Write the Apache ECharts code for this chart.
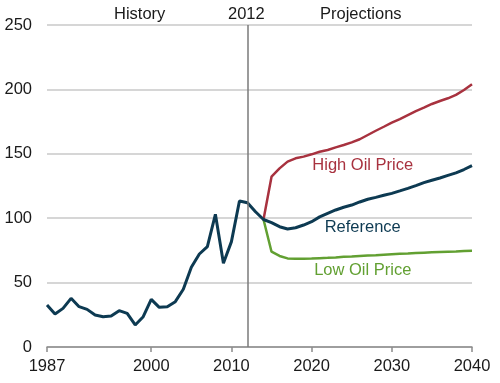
<!DOCTYPE html>
<html>
<head>
<meta charset="utf-8">
<script src="https://cdn.jsdelivr.net/npm/echarts@6/dist/echarts.min.js"></script>
<style>html,body{margin:0;padding:0;background:#fff}#c{width:500px;height:383px}</style>
</head>
<body>
<div id="c"></div>
<script>
var startYear = 1987, endYear = 2040;
var labelYears = [1987, 2000, 2010, 2020, 2030, 2040];
var yTicks = [0, 50, 100, 150, 200, 250];
// History 1987-2013
var historyValues = [32.6, 25.6, 30, 37.8, 31.3, 29.2, 24.8, 23.5, 24, 28.2, 26.1, 17.1, 23.5, 37, 30.8, 31.3, 35.2, 44.8, 61.9, 72.2, 77.9, 103, 65, 81.8, 113.4, 112, 105];
// Reference 2014-2040
var referenceValues = [99, 96.5, 93.4, 91.6, 92.6, 94.7, 97.3, 101, 103.8, 106.4, 108.5, 110.2, 112.6, 114.7, 116.2, 117.8, 119.3, 121.2, 123.2, 125.3, 127.6, 129.5, 131.2, 133.2, 135.2, 137.8, 140.8];
// High Oil Price 2014-2040
var highValues = [99, 132.2, 138.7, 143.9, 146.5, 147.8, 149.6, 151.6, 153, 155, 156.8, 158.9, 161.3, 164.6, 167.9, 171, 174.2, 177, 180.1, 183.2, 185.8, 188.7, 191, 193.1, 195.7, 199.5, 204];
// Low Oil Price 2014-2040
var lowValues = [99, 74, 70.7, 68.8, 68.6, 68.6, 68.7, 69, 69.2, 69.5, 70, 70.3, 70.7, 71, 71.3, 71.7, 72.1, 72.4, 72.6, 72.9, 73.2, 73.5, 73.8, 74, 74.2, 74.5, 74.8];

var years = [];
for (var y = startYear; y <= endYear; y++) years.push(String(y));
var projStart = 2014 - startYear;
function pad(arr) {
  var out = [];
  for (var i = 0; i < projStart; i++) out.push(null);
  return out.concat(arr);
}
var refSeries = historyValues.concat(referenceValues);
var navy = '#0d3a52', red = '#a8323f', green = '#62a032';
var FS = 16.5;
var FONT = 'Liberation Sans, Arial, sans-serif';
var showLabel = function (idx, val) { return labelYears.indexOf(+val) >= 0; };

var chart = echarts.init(document.getElementById('c'));
chart.setOption({
  animation: false,
  textStyle: { fontFamily: FONT },
  grid: { left: 47, right: 28, top: 25, bottom: 36, containLabel: false },
  xAxis: {
    type: 'category', data: years, boundaryGap: false,
    axisLine: { lineStyle: { color: '#8c8c8c', width: 1.5 } },
    axisTick: { show: true, interval: showLabel, length: 5, lineStyle: { color: '#8c8c8c', width: 1.5 } },
    axisLabel: { interval: showLabel, fontSize: FS, color: '#1a1a1a', margin: 11 },
    splitLine: { show: false }
  },
  yAxis: {
    type: 'value', min: 0, max: 250, interval: 50,
    axisLine: { show: false }, axisTick: { show: false },
    axisLabel: { fontSize: FS, color: '#1a1a1a', margin: 15 },
    splitLine: { lineStyle: { color: '#c8c8c8', width: 1.5 } }
  },
  graphic: [
    { type: 'text', left: 114, top: 6, style: { text: 'History', fontSize: FS, fill: '#1a1a1a', fontFamily: FONT } },
    { type: 'text', left: 228, top: 6, style: { text: '2012', fontSize: FS, fill: '#1a1a1a', fontFamily: FONT } },
    { type: 'text', left: 320, top: 6, style: { text: 'Projections', fontSize: FS, fill: '#1a1a1a', fontFamily: FONT } }
  ],
  series: [
    {
      name: 'High Oil Price', type: 'line', data: pad(highValues), symbol: 'none',
      lineStyle: { color: red, width: 2.5 }, itemStyle: { color: red },
      markPoint: {
        symbol: 'circle', symbolSize: 0,
        data: [{ coord: ['2026', 141.3], label: { show: true, formatter: 'High Oil Price', color: red, fontSize: FS, offset: [3, 0] } }]
      }
    },
    {
      name: 'Low Oil Price', type: 'line', data: pad(lowValues), symbol: 'none',
      lineStyle: { color: green, width: 2.5 }, itemStyle: { color: green },
      markPoint: {
        symbol: 'circle', symbolSize: 0,
        data: [{ coord: ['2026', 59.2], label: { show: true, formatter: 'Low Oil Price', color: green, fontSize: FS, offset: [3, 0] } }]
      }
    },
    {
      name: 'Reference', type: 'line', data: refSeries, symbol: 'none',
      lineStyle: { color: navy, width: 3 }, itemStyle: { color: navy },
      markPoint: {
        symbol: 'circle', symbolSize: 0,
        data: [{ coord: ['2026', 92.6], label: { show: true, formatter: 'Reference', color: navy, fontSize: FS, offset: [3, 0] } }]
      },
      markLine: {
        symbol: 'none', silent: true,
        lineStyle: { color: '#7a7a7a', width: 1.5, type: 'solid' },
        label: { show: false },
        data: [{ xAxis: '2012' }]
      }
    }
  ]
});
</script>
</body>
</html>
